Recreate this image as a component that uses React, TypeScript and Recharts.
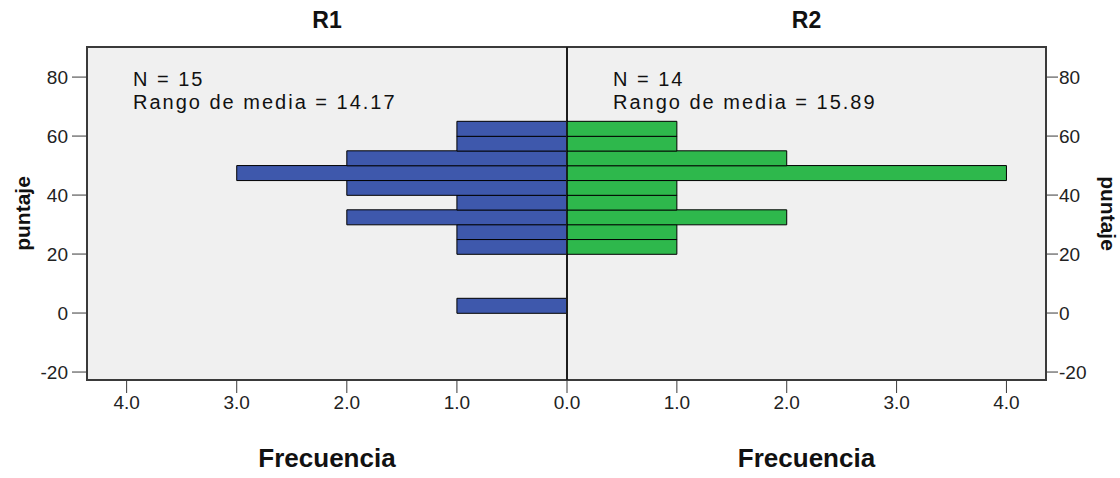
import { BarChart, Bar, XAxis, YAxis, CartesianGrid, ReferenceArea, ReferenceLine } from "recharts"

// histogram bins (lower edge of each 5-point bin of "puntaje")
const binStart = [0, 20, 25, 30, 35, 40, 45, 50, 55, 60]
const binWidth = 5
const r1Counts = [1, 1, 1, 2, 1, 2, 3, 2, 1, 1]
const r2Counts = [0, 1, 1, 2, 1, 1, 4, 2, 1, 1]

const groups = ["R1", "R2"]
const groupN = [15, 14]
const meanRanks = ["14.17", "15.89"]

const leftFreqTicks = [0, 1, 2, 3, 4]
const rightFreqTicks = [1, 2, 3, 4] // 0.0 is shared with the left panel
const scoreTicks = [-20, 0, 20, 40, 60, 80]
const freqDomain: [number, number] = [0, 4.36]
const scoreDomain: [number, number] = [-22.7, 90.2]

const r1Data = binStart.map((s, i) => ({ mid: s + binWidth / 2, count: r1Counts[i] }))
const r2Data = binStart.map((s, i) => ({ mid: s + binWidth / 2, count: r2Counts[i] }))

const FONT = "'Liberation Sans', Arial, sans-serif"
const BORDER = "#3a3a3a"
const BLUE = "#3e58ac"
const GREEN = "#2eb84c"

const tickStyle = { fill: "#222", fontSize: 19, fontFamily: FONT }
const fmt = (v: number) => v.toFixed(1)
const axisTitle = { fontSize: 26, fontWeight: 700, fill: "#111", fontFamily: FONT }
const panelTitle = { fontSize: 23, fontWeight: 700, fill: "#111", fontFamily: FONT }
const yTitle = { fontSize: 21, fontWeight: 700, fill: "#111", textAnchor: "middle", fontFamily: FONT }

function Notes({ x, n, rank }: { x: number; n: number; rank: string }) {
  return (
    <g style={{ fontFamily: FONT, fontSize: 20, letterSpacing: 2 }} fill="#111">
      <text x={x} y={86}>N = {n}</text>
      <text x={x} y={109}>Rango de media = {rank}</text>
    </g>
  )
}

export default function App() {
  return (
    <div style={{ position: "relative", width: 1120, height: 478, background: "#fff", fontFamily: FONT }}>
      <style>{"body{margin:0}"}</style>
      <div style={{ position: "absolute", left: 0, top: 0 }}>
        <BarChart
          width={600}
          height={478}
          layout="vertical"
          data={r1Data}
          margin={{ top: 0, right: 33, bottom: 0, left: 0 }}
          barCategoryGap={0}
        >
          <CartesianGrid horizontal={false} vertical={false} fill="#f0f0f0" />
          <XAxis
            type="number"
            reversed
            domain={freqDomain}
            allowDataOverflow
            ticks={leftFreqTicks}
            interval={0}
            tickFormatter={fmt}
            tick={tickStyle}
            tickSize={13}
            tickMargin={3}
            axisLine={false}
            tickLine={{ stroke: BORDER }}
            height={98}
            label={{ value: "Frecuencia", position: "insideBottom", offset: 11, style: axisTitle }}
          />
          <XAxis
            xAxisId="title"
            type="number"
            orientation="top"
            domain={freqDomain}
            height={47}
            tick={false}
            axisLine={false}
            tickLine={false}
            label={{ value: groups[0], position: "insideTop", offset: 12, style: panelTitle }}
          />
          <YAxis
            type="number"
            dataKey="mid"
            reversed
            domain={scoreDomain}
            allowDataOverflow
            ticks={scoreTicks}
            interval={0}
            tick={tickStyle}
            tickSize={15}
            tickMargin={4}
            axisLine={false}
            tickLine={{ stroke: BORDER }}
            width={87}
            label={{ value: "puntaje", angle: -90, position: "insideLeft", offset: 23, style: yTitle }}
          />
          <ReferenceArea x1={0} x2={freqDomain[1]} y1={scoreDomain[0]} y2={scoreDomain[1]} fill="none" stroke={BORDER} strokeWidth={2} />
          <Bar dataKey="count" fill={BLUE} stroke="#000" strokeWidth={1} isAnimationActive={false} />
          <ReferenceLine x={0} stroke="#000" strokeWidth={1} />
          <Notes x={133} n={groupN[0]} rank={meanRanks[0]} />
        </BarChart>
      </div>
      <div style={{ position: "absolute", left: 560, top: 0 }}>
        <BarChart
          width={560}
          height={478}
          layout="vertical"
          data={r2Data}
          margin={{ top: 0, right: 0, bottom: 0, left: 7 }}
          barCategoryGap={0}
        >
          <CartesianGrid horizontal={false} vertical={false} fill="#f0f0f0" />
          <XAxis
            type="number"
            domain={freqDomain}
            allowDataOverflow
            ticks={rightFreqTicks}
            interval={0}
            tickFormatter={fmt}
            tick={tickStyle}
            tickSize={13}
            tickMargin={3}
            axisLine={false}
            tickLine={{ stroke: BORDER }}
            height={98}
            label={{ value: "Frecuencia", position: "insideBottom", offset: 11, style: axisTitle }}
          />
          <XAxis
            xAxisId="title"
            type="number"
            orientation="top"
            domain={freqDomain}
            height={47}
            tick={false}
            axisLine={false}
            tickLine={false}
            label={{ value: groups[1], position: "insideTop", offset: 12, style: panelTitle }}
          />
          <YAxis
            type="number"
            dataKey="mid"
            orientation="right"
            reversed
            domain={scoreDomain}
            allowDataOverflow
            ticks={scoreTicks}
            interval={0}
            tick={{ ...tickStyle, textAnchor: "start" }}
            tickSize={12}
            tickMargin={1}
            axisLine={false}
            tickLine={{ stroke: BORDER }}
            width={74}
            label={{ value: "puntaje", angle: 90, position: "insideRight", offset: 12, style: yTitle }}
          />
          <ReferenceArea x1={0} x2={freqDomain[1]} y1={scoreDomain[0]} y2={scoreDomain[1]} fill="none" stroke={BORDER} strokeWidth={2} />
          <Bar dataKey="count" fill={GREEN} stroke="#000" strokeWidth={1} isAnimationActive={false} />
          <ReferenceLine x={0} stroke="#000" strokeWidth={1} />
          <Notes x={53} n={groupN[1]} rank={meanRanks[1]} />
        </BarChart>
      </div>
    </div>
  )
}
